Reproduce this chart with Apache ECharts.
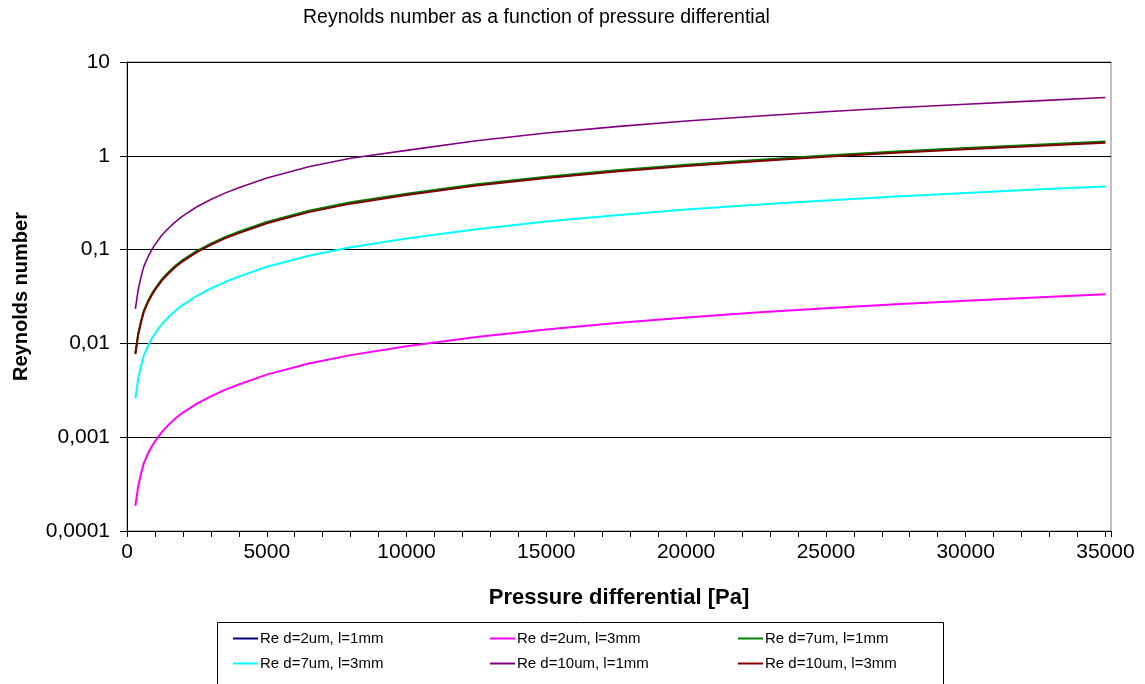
<!DOCTYPE html>
<html>
<head>
<meta charset="utf-8">
<script src="https://cdn.jsdelivr.net/npm/echarts@6/dist/echarts.min.js"></script>
<style>html,body{margin:0;padding:0;background:#fff;}#c{width:1145px;height:684px;}</style>
</head>
<body>
<div id="c"></div>
<script>
// Pressure differential [Pa]
const pressure = [300, 400, 500, 600, 750, 900, 1000, 1250, 1500, 1750, 2000, 2500, 3000, 3500, 4000, 5000, 6500, 8000, 10000, 12500, 15000, 17500, 20000, 22500, 25000, 27500, 30000, 32500, 35000];
const seriesNames = ['Re d=2um, l=1mm', 'Re d=2um, l=3mm', 'Re d=7um, l=1mm', 'Re d=7um, l=3mm', 'Re d=10um, l=1mm', 'Re d=10um, l=3mm'];
const re_d2_l1 = [];
const re_d2_l3 = [0.000185, 0.000300, 0.000405, 0.000525, 0.00067, 0.00081, 0.00090, 0.00114, 0.00137, 0.00160, 0.00183, 0.00228, 0.00273, 0.00320, 0.00365, 0.00465, 0.0061, 0.0075, 0.0093, 0.0117, 0.0141, 0.0165, 0.0189, 0.0213, 0.0237, 0.0261, 0.0285, 0.0309, 0.0334];
const re_d7_l1 = [0.0079, 0.0127, 0.0172, 0.0223, 0.0283, 0.0343, 0.0382, 0.0485, 0.058, 0.068, 0.0777, 0.097, 0.1159, 0.1357, 0.155, 0.197, 0.259, 0.319, 0.394, 0.497, 0.599, 0.701, 0.804, 0.903, 1.005, 1.108, 1.21, 1.312, 1.42];
const re_d7_l3 = [0.0026, 0.0042, 0.0057, 0.0074, 0.0094, 0.0114, 0.0127, 0.0161, 0.0193, 0.0226, 0.0258, 0.0322, 0.0385, 0.0451, 0.0515, 0.0656, 0.086, 0.106, 0.131, 0.165, 0.199, 0.233, 0.267, 0.300, 0.334, 0.368, 0.402, 0.436, 0.472];
const re_d10_l1 = [0.0234, 0.0375, 0.0507, 0.0658, 0.0835, 0.101, 0.113, 0.143, 0.171, 0.200, 0.229, 0.286, 0.342, 0.400, 0.457, 0.581, 0.764, 0.941, 1.142, 1.446, 1.747, 2.048, 2.352, 2.644, 2.945, 3.249, 3.55, 3.85, 4.19];
const re_d10_l3 = [0.0077, 0.0123, 0.0167, 0.0216, 0.0275, 0.0333, 0.0371, 0.047, 0.0563, 0.066, 0.0754, 0.094, 0.1124, 0.1316, 0.150, 0.191, 0.251, 0.309, 0.382, 0.482, 0.581, 0.680, 0.780, 0.876, 0.975, 1.075, 1.174, 1.273, 1.378];
const seriesValues = [re_d2_l1, re_d2_l3, re_d7_l1, re_d7_l3, re_d10_l1, re_d10_l3];
const seriesColors = ['#000080', '#FF00FF', '#008000', '#00FFFF', '#800080', '#800000'];
const seriesWidths = [2, 2, 2, 2, 1.6, 2];
const yTickLabels = {'-4': '0,0001', '-3': '0,001', '-2': '0,01', '-1': '0,1', '0': '1', '1': '10'};
const xTickLabels = ['0', '5000', '10000', '15000', '20000', '25000', '30000', '35000'];

const FONT = '"Liberation Sans", Arial, sans-serif';
const chart = echarts.init(document.getElementById('c'), null, {renderer: 'canvas'});

const series = seriesNames.map((name, i) => ({
  name: name,
  type: 'line',
  symbol: 'none',
  showSymbol: false,
  smooth: false,
  data: seriesValues[i].map((v, j) => [pressure[j], v]),
  lineStyle: {color: seriesColors[i], width: seriesWidths[i]},
  itemStyle: {color: seriesColors[i]}
}));

// legend layout: 3 columns x 2 rows
const legendCols = [233, 490, 738];
const legendRows = [631, 656];
const legends = seriesNames.map((name, i) => ({
  data: [name],
  left: legendCols[i % 3],
  top: legendRows[Math.floor(i / 3)],
  orient: 'horizontal',
  icon: 'rect',
  itemWidth: 25,
  itemHeight: 2,
  padding: 0,
  selectedMode: false,
  textStyle: {fontFamily: FONT, fontSize: 15, color: '#000', padding: [0, 0, 0, -3]}
}));

chart.setOption({
  animation: false,
  backgroundColor: '#fff',
  title: {
    text: 'Reynolds number as a function of pressure differential',
    left: 298,
    top: 3,
    textStyle: {fontFamily: FONT, fontSize: 19.5, fontWeight: 'normal', color: '#000'}
  },
  grid: {left: 127, right: 34, top: 62, bottom: 153, show: true, borderColor: '#808080', borderWidth: 1, backgroundColor: 'transparent'},
  legend: legends,
  graphic: [{
    type: 'rect',
    shape: {x: 217.5, y: 622.5, width: 726, height: 80},
    style: {fill: 'none', stroke: '#000', lineWidth: 1},
    silent: true
  }],
  xAxis: {
    type: 'value',
    min: 0,
    max: 35200,
    interval: 1000,
    name: 'Pressure differential [Pa]',
    nameLocation: 'middle',
    nameGap: 56,
    nameTextStyle: {fontFamily: FONT, fontSize: 22, fontWeight: 'bold', color: '#000'},
    axisLine: {show: true, lineStyle: {color: '#000', width: 1}},
    axisTick: {show: true, inside: false, length: 6, lineStyle: {color: '#000'}},
    axisLabel: {
      fontFamily: FONT, fontSize: 21, color: '#000', margin: 11,
      formatter: function (v) {
        const s = String(Math.round(v));
        return xTickLabels.indexOf(s) >= 0 ? s : '';
      }
    },
    splitLine: {show: false}
  },
  yAxis: {
    type: 'log',
    logBase: 10,
    min: 0.0001,
    max: 10,
    name: 'Reynolds number',
    nameLocation: 'middle',
    nameGap: 96,
    nameTextStyle: {fontFamily: FONT, fontSize: 20, fontWeight: 'bold', color: '#000'},
    axisLine: {show: true, lineStyle: {color: '#000', width: 1}},
    axisTick: {show: true, inside: false, length: 7, lineStyle: {color: '#000'}},
    axisLabel: {
      fontFamily: FONT, fontSize: 21, color: '#000', margin: 17,
      formatter: function (v) {
        const k = Math.round(Math.log10(v));
        return yTickLabels[String(k)] || '';
      }
    },
    splitLine: {show: true, lineStyle: {color: '#000', width: 1}}
  },
  series: series
});
</script>
</body>
</html>
